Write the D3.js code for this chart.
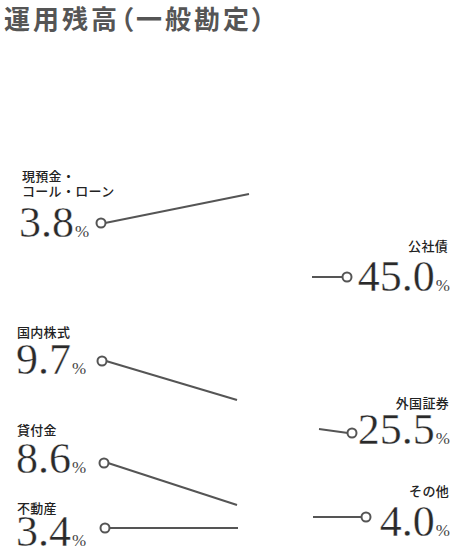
<!DOCTYPE html>
<html>
<head>
<meta charset="utf-8">
<script src="https://cdn.jsdelivr.net/npm/d3@7"></script>
<style>
  html, body { margin: 0; padding: 0; background: #fff; }
  svg { display: block; }
  .title { font-feature-settings: "palt"; }
</style>
</head>
<body>
<svg id="chart" width="455" height="557"></svg>
<script>
// データ
const categories = ["現預金・\nコール・ローン", "国内株式", "貸付金", "不動産", "公社債", "外国証券", "その他"];
const shares = [3.8, 9.7, 8.6, 3.4, 45.0, 25.5, 4.0];
const sides = ["left", "left", "left", "left", "right", "right", "right"];

// レイアウト（ラベル位置と引き出し線）
const layout = [
  { lx: 22, ly: 181, nx: 19, ny: 237, cx: 101, cy: 223, ex: 249, ey: 194 },
  { lx: 17, ly: 337, nx: 16, ny: 374, cx: 102, cy: 361, ex: 237, ey: 400 },
  { lx: 17, ly: 435, nx: 16, ny: 473, cx: 104, cy: 463, ex: 237, ey: 505 },
  { lx: 17, ly: 513, nx: 16, ny: 546, cx: 105, cy: 528, ex: 238, ey: 528 },
  { lx: 448, ly: 251, nx: 450, ny: 291, cx: 347, cy: 277, ex: 312, ey: 277 },
  { lx: 449, ly: 408, nx: 450, ny: 444, cx: 352, cy: 433, ex: 319, ey: 429 },
  { lx: 449, ly: 496, nx: 450, ny: 536, cx: 366, cy: 517, ex: 313, ey: 517 }
];

const rows = categories.map((c, i) => ({ name: c, value: shares[i], side: sides[i], pos: layout[i] }));
const fmt = d3.format(".1f");

const svg = d3.select("#chart");

// タイトル
svg.append("text")
  .attr("class", "title")
  .attr("x", 4)
  .attr("y", 29)
  .attr("font-family", "'Noto Sans CJK JP', sans-serif")
  .attr("font-weight", "bold")
  .attr("font-size", "26px")
  .attr("letter-spacing", "3px")
  .attr("fill", "#555")
  .text("運用残高（一般勘定）");

const g = svg.append("g");

// 引き出し線
g.selectAll(".leader")
  .data(rows)
  .enter()
  .append("line")
  .attr("class", "leader")
  .attr("x1", d => d.pos.cx + (d.side === "left" ? 4 : -4))
  .attr("y1", d => d.pos.cy)
  .attr("x2", d => d.pos.ex)
  .attr("y2", d => d.pos.ey)
  .attr("stroke", "#555")
  .attr("stroke-width", 2);

g.selectAll(".dot")
  .data(rows)
  .enter()
  .append("circle")
  .attr("class", "dot")
  .attr("cx", d => d.pos.cx)
  .attr("cy", d => d.pos.cy)
  .attr("r", 4.5)
  .attr("fill", "#fff")
  .attr("stroke", "#555")
  .attr("stroke-width", 2);

// 項目名
const names = g.selectAll(".name")
  .data(rows)
  .enter()
  .append("text")
  .attr("class", "name")
  .attr("text-anchor", d => d.side === "left" ? "start" : "end")
  .attr("font-family", "'Noto Sans CJK JP', sans-serif")
  .attr("font-size", "13px")
  .attr("letter-spacing", "0.3px")
  .attr("font-weight", 500)
  .attr("fill", "#222");

names.each(function(d) {
  const lines = d.name.split("\n");
  const t = d3.select(this);
  lines.forEach((l, j) => {
    t.append("tspan")
      .attr("x", d.pos.lx)
      .attr("y", d.pos.ly + j * 15)
      .text(l);
  });
});

// 比率
const nums = g.selectAll(".num")
  .data(rows)
  .enter()
  .append("text")
  .attr("class", "num")
  .attr("x", d => d.pos.nx)
  .attr("y", d => d.pos.ny)
  .attr("text-anchor", d => d.side === "left" ? "start" : "end")
  .attr("font-family", "'Liberation Serif', 'Times New Roman', serif")
  .attr("fill", "#2a2a2a");

nums.append("tspan")
  .attr("font-size", "44px")
  .attr("stroke", "#fff")
  .attr("stroke-width", 0.35)
  .text(d => fmt(d.value));

nums.append("tspan")
  .attr("dx", 1)
  .attr("font-size", "17px")
  .attr("fill", "#444")
  .text("%");
</script>
</body>
</html>
